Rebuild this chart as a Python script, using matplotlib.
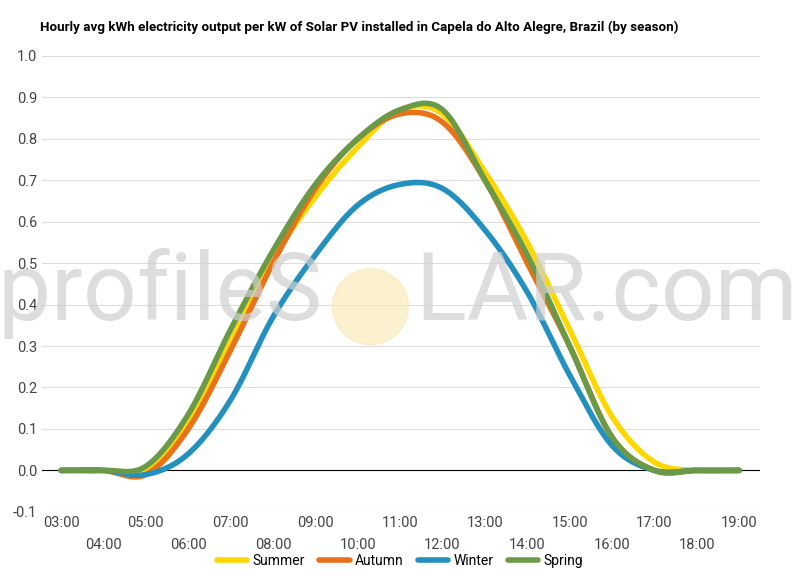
import numpy as np
import matplotlib
matplotlib.use("Agg")
import matplotlib.pyplot as plt
from matplotlib.patches import Ellipse

plt.rcParams['font.family'] = ['Roboto', 'DejaVu Sans']

hours = [3, 4, 5, 6, 7, 8, 9, 10, 11, 12, 13, 14, 15, 16, 17, 18, 19]
summer = [0, 0, 0.0, 0.12, 0.31, 0.51, 0.66, 0.78, 0.87, 0.86, 0.72, 0.55, 0.34, 0.13, 0.02, 0, 0]
autumn = [0, 0, -0.01, 0.10, 0.29, 0.50, 0.68, 0.80, 0.86, 0.84, 0.70, 0.50, 0.30, 0.08, 0.0, 0, 0]
winter = [0, 0, -0.01, 0.04, 0.17, 0.37, 0.52, 0.64, 0.69, 0.68, 0.58, 0.43, 0.23, 0.06, 0.0, 0, 0]
spring = [0, 0, 0.01, 0.135, 0.34, 0.53, 0.69, 0.80, 0.87, 0.87, 0.70, 0.52, 0.30, 0.08, 0.0, 0, 0]
names = ["Summer", "Autumn", "Winter", "Spring"]
colors = ["#FFD700", "#E8711A", "#2390C0", "#6A9A48"]
tick_labels = ["%02d:00" % h for h in hours]

def smooth(x, y, n=20):
    x = np.asarray(x, float); y = np.asarray(y, float)
    xp = np.concatenate([[2 * x[0] - x[1]], x, [2 * x[-1] - x[-2]]])
    yp = np.concatenate([[y[0]], y, [y[-1]]])
    xs, ys = [], []
    for i in range(1, len(xp) - 2):
        t = np.linspace(0, 1, n, endpoint=False)
        p0, p1, p2, p3 = yp[i - 1], yp[i], yp[i + 1], yp[i + 2]
        yy = 0.5 * ((2 * p1) + (-p0 + p2) * t + (2 * p0 - 5 * p1 + 4 * p2 - p3) * t**2 + (-p0 + 3 * p1 - 3 * p2 + p3) * t**3)
        xs.append(xp[i] + t * (xp[i + 1] - xp[i])); ys.append(yy)
    xs.append([x[-1]]); ys.append([y[-1]])
    return np.concatenate(xs), np.concatenate(ys)

fig = plt.figure(figsize=(8, 5.7), dpi=100)
ax = fig.add_axes([0.0525, 0.102, 0.898, 0.8])
ax.set_xlim(2.55, 19.5)
ax.set_ylim(-0.1, 1.0)

for s, c, nm in zip([summer, autumn, winter, spring], colors, names):
    xs, ys = smooth(hours, s)
    ax.plot(xs, ys, color=c, lw=4, label=nm, solid_capstyle='round', zorder=3)

ax.axhline(0, color='black', lw=0.8, zorder=2)
ax.set_yticks(np.arange(-0.1, 1.01, 0.1))
ax.set_yticklabels(["%.1f" % v for v in np.arange(-0.1, 1.01, 0.1)])
ax.grid(axis='y', color='#dddddd', lw=0.8)
ax.set_axisbelow(True)
for sp in ax.spines.values():
    sp.set_visible(False)
ax.tick_params(axis='y', length=0, labelsize=10.5, colors='#444444')
ax.set_xticks(hours[::2])
ax.set_xticklabels(tick_labels[::2])
ax.set_xticks(hours[1::2], minor=True)
ax.set_xticklabels(tick_labels[1::2], minor=True)
ax.tick_params(axis='x', which='major', length=0, labelsize=10.5, colors='#444444', pad=3)
ax.tick_params(axis='x', which='minor', length=0, labelsize=10.5, colors='#444444', pad=19)

# watermark
fig.text(0.497, 0.485, "profileS    LAR.com", fontsize=68, color='#cfcfcf', alpha=0.7,
         ha='center', va='center', zorder=0)
circ = Ellipse((0.463, 0.462), 76 / 800, 76 / 570, transform=fig.transFigure,
               color='#fbe9b0', alpha=0.6, zorder=0)
fig.patches.append(circ)

fig.text(0.05, 0.952, "Hourly avg kWh electricity output per kW of Solar PV installed in Capela do Alto Alegre, Brazil (by season)",
         fontsize=9.6, fontweight='bold', ha='left', va='center')
fig.legend(loc='lower center', ncol=4, bbox_to_anchor=(0.5, -0.018), frameon=False,
           fontsize=10, handlelength=2.2, columnspacing=1.0, handletextpad=0.4)
fig.savefig("out.png", dpi=100)
